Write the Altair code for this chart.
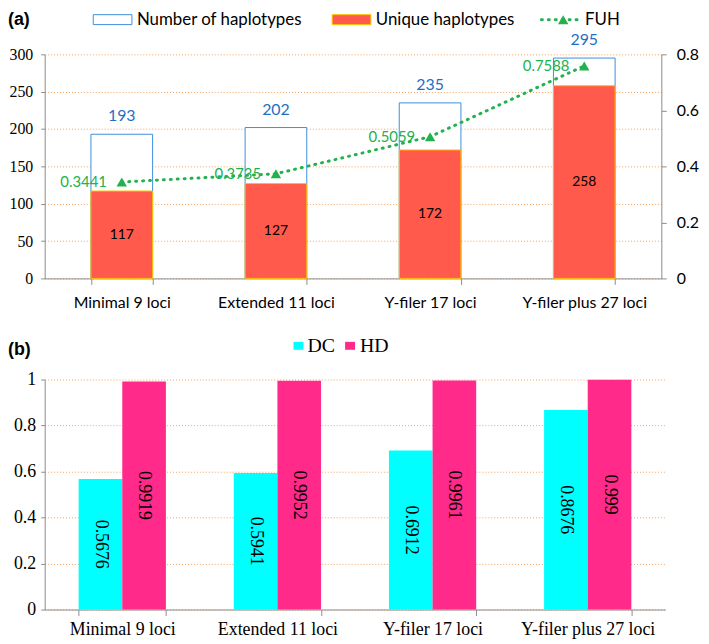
import altair as alt
import pandas as pd

categories = ["Minimal 9 loci", "Extended 11 loci", "Y-filer 17 loci", "Y-filer plus 27 loci"]
num_haplotypes = [193, 202, 235, 295]
unique_haplotypes = [117, 127, 172, 258]
fuh = [0.3441, 0.3735, 0.5059, 0.7588]
dc = [0.5676, 0.5941, 0.6912, 0.8676]
hd = [0.9919, 0.9952, 0.9961, 0.999]
legend_a = ["Number of haplotypes", "Unique haplotypes", "FUH"]
legend_b = ["DC", "HD"]
panel_tags = ["(a)", "(b)"]

BLUE = "#3D8FDB"
BLUE_TXT = "#1F6FC5"
RED = "#FF5A4B"
ORANGE = "#FFC000"
GREEN = "#22B14C"
CYAN = "#00FFFF"
PINK = "#FF2A8A"
GRID = "#F5A05A"
AXIS = "#8C8C8C"
SERIF = "Liberation Serif"
SANS = "Lato"

df_a = pd.DataFrame({"cat": categories, "num": num_haplotypes,
                     "uniq": unique_haplotypes, "fuh": fuh})

x_axis_a = alt.Axis(labelAngle=0, labelFont=SANS, labelFontSize=16, labelColor="black",
                    tickBand="extent", tickSize=6, tickColor=AXIS, domainColor=AXIS,
                    labelPadding=10, grid=False)
x_a = alt.X("cat:N", sort=categories, title=None,
            scale=alt.Scale(paddingInner=0.6, paddingOuter=0.3), axis=x_axis_a)

y_axis_left = alt.Axis(values=[0, 50, 100, 150, 200, 250, 300], labelFont=SERIF,
                       labelFontSize=16, labelColor="black", grid=True, gridColor=GRID,
                       gridDash=[1, 2], gridWidth=1, tickSize=4, tickColor=AXIS,
                       domainColor=AXIS, labelPadding=8, labelOverlap=False)
y_scale_left = alt.Scale(domain=[0, 300])

def yl(field):
    return alt.Y(field, title=None, scale=y_scale_left, axis=y_axis_left)

base_a = alt.Chart(df_a)
bar_num = base_a.mark_bar(fill="white", stroke=BLUE, strokeWidth=1).encode(x=x_a, y=yl("num:Q"))
bar_uniq = base_a.mark_bar(fill=RED, stroke=ORANGE, strokeWidth=1).encode(x=x_a, y=yl("uniq:Q"))
txt_num = base_a.mark_text(dy=-18, font=SANS, fontSize=16, color=BLUE_TXT).encode(
    x=x_a, y=yl("num:Q"), text="num:Q")
txt_uniq = base_a.transform_calculate(mid="datum.uniq / 2").mark_text(
    font=SANS, fontSize=14, color="black").encode(
    x=x_a, y=yl("mid:Q"), text="uniq:Q")
bars_group = alt.layer(bar_num, bar_uniq, txt_num, txt_uniq)

y_right = alt.Y("fuh:Q", title=None, scale=alt.Scale(domain=[0, 0.8]),
                axis=alt.Axis(orient="right", values=[0, 0.2, 0.4, 0.6, 0.8], format="~g",
                              labelFont=SANS, labelFontSize=16, labelColor="black", grid=False,
                              tickSize=5, tickColor=AXIS, domainColor=AXIS, labelPadding=10,
                              labelOverlap=False))
fuh_line = base_a.mark_line(color=GREEN, strokeWidth=3, strokeDash=[1, 6],
                            strokeCap="round").encode(x=x_a, y=y_right)
fuh_pts = base_a.mark_point(shape="triangle-up", filled=True, size=110, color=GREEN,
                            opacity=1).encode(x=x_a, y=y_right)
fuh_txt = base_a.mark_text(align="right", dx=-15, font=SANS, fontSize=15, color=GREEN).encode(
    x=x_a, y=y_right, text=alt.Text("fuh:Q", format=".4f"))
fuh_group = alt.layer(fuh_line, fuh_pts, fuh_txt)

one = pd.DataFrame({"k": [0]})
leg = alt.Chart(one)
LY = -35
leg_a = [
    leg.mark_text(text=panel_tags[0], font="Liberation Sans", fontWeight="bold", fontSize=18,
                  align="left", color="black").encode(x=alt.value(-37), y=alt.value(-35)),
    leg.mark_rect(fill="white", stroke=BLUE, strokeWidth=1).encode(
        x=alt.value(49), x2=alt.value(88), y=alt.value(LY - 5), y2=alt.value(LY + 5)),
    leg.mark_text(text=legend_a[0], font=SANS, fontSize=17, align="left", color="black").encode(
        x=alt.value(93), y=alt.value(LY)),
    leg.mark_rect(fill=RED, stroke=ORANGE, strokeWidth=1).encode(
        x=alt.value(290), x2=alt.value(329), y=alt.value(LY - 5), y2=alt.value(LY + 5)),
    leg.mark_text(text=legend_a[1], font=SANS, fontSize=17, align="left", color="black").encode(
        x=alt.value(334), y=alt.value(LY)),
    leg.mark_rule(color=GREEN, strokeWidth=3, strokeDash=[1, 6], strokeCap="round").encode(
        x=alt.value(501), x2=alt.value(540), y=alt.value(LY)),
    leg.mark_point(shape="triangle-up", filled=True, size=110, color=GREEN, opacity=1).encode(
        x=alt.value(523), y=alt.value(LY)),
    leg.mark_text(text=legend_a[2], font=SANS, fontSize=17, align="left", color="black").encode(
        x=alt.value(545), y=alt.value(LY)),
]

chart_a = alt.layer(bars_group, fuh_group, *leg_a).resolve_scale(y="independent").properties(
    width=622, height=226)

# Panel (b)
df_b = pd.DataFrame({
    "cat": categories * 2,
    "series": [legend_b[0]] * len(dc) + [legend_b[1]] * len(hd),
    "value": dc + hd,
})

x_b = alt.X("cat:N", sort=categories, title=None,
            scale=alt.Scale(paddingInner=0.4377, paddingOuter=0.219),
            axis=alt.Axis(labelAngle=0, labelFont=SERIF, labelFontSize=18, labelColor="black",
                          tickBand="extent", tickSize=6, tickColor=AXIS, domainColor=AXIS,
                          labelPadding=5, grid=False))
xo_b = alt.XOffset("series:N", sort=legend_b, scale=alt.Scale(paddingInner=0, paddingOuter=0))
y_axis_b = alt.Axis(values=[0, 0.2, 0.4, 0.6, 0.8, 1], format="~g", labelFont=SERIF,
                    labelFontSize=18, labelColor="black", grid=True, gridColor=GRID,
                    gridDash=[1, 2], gridWidth=1, tickSize=4, tickColor=AXIS,
                    domainColor=AXIS, labelPadding=5, labelOverlap=False)
y_scale_b = alt.Scale(domain=[0, 1])
base_b = alt.Chart(df_b)
bars_b = base_b.mark_bar().encode(
    x=x_b, xOffset=xo_b, y=alt.Y("value:Q", title=None, scale=y_scale_b, axis=y_axis_b),
    color=alt.Color("series:N", scale=alt.Scale(domain=legend_b, range=[CYAN, PINK]),
                    legend=None))
txt_b = base_b.transform_calculate(mid="datum.value / 2").mark_text(
    angle=90, font=SERIF, fontSize=18, color="black").encode(
    x=x_b, xOffset=xo_b, y=alt.Y("mid:Q", title=None, scale=y_scale_b, axis=y_axis_b),
    text=alt.Text("value:Q", format="~g"))

LYB = -34
leg_b = [
    leg.mark_text(text=panel_tags[1], font="Liberation Sans", fontWeight="bold", fontSize=18,
                  align="left", color="black").encode(x=alt.value(-37), y=alt.value(-30)),
    leg.mark_rect(fill=CYAN).encode(
        x=alt.value(251), x2=alt.value(261), y=alt.value(LYB - 4), y2=alt.value(LYB + 4)),
    leg.mark_text(text=legend_b[0], font=SERIF, fontSize=20, align="left", color="black").encode(
        x=alt.value(265), y=alt.value(LYB)),
    leg.mark_rect(fill=PINK).encode(
        x=alt.value(303), x2=alt.value(313), y=alt.value(LYB - 4), y2=alt.value(LYB + 4)),
    leg.mark_text(text=legend_b[1], font=SERIF, fontSize=20, align="left", color="black").encode(
        x=alt.value(318), y=alt.value(LYB)),
]

chart_b = alt.layer(bars_b, txt_b, *leg_b).properties(width=626, height=232)

chart = alt.vconcat(chart_a, chart_b, spacing=26).configure_view(stroke=None).configure_axisLeft(
    labelFont=SERIF).configure_axisRight(labelFont=SANS).properties(
    padding={"left": 0, "top": 0, "right": 2, "bottom": 0})

chart.save("out.html", embed_options={"renderer": "svg", "actions": False})
